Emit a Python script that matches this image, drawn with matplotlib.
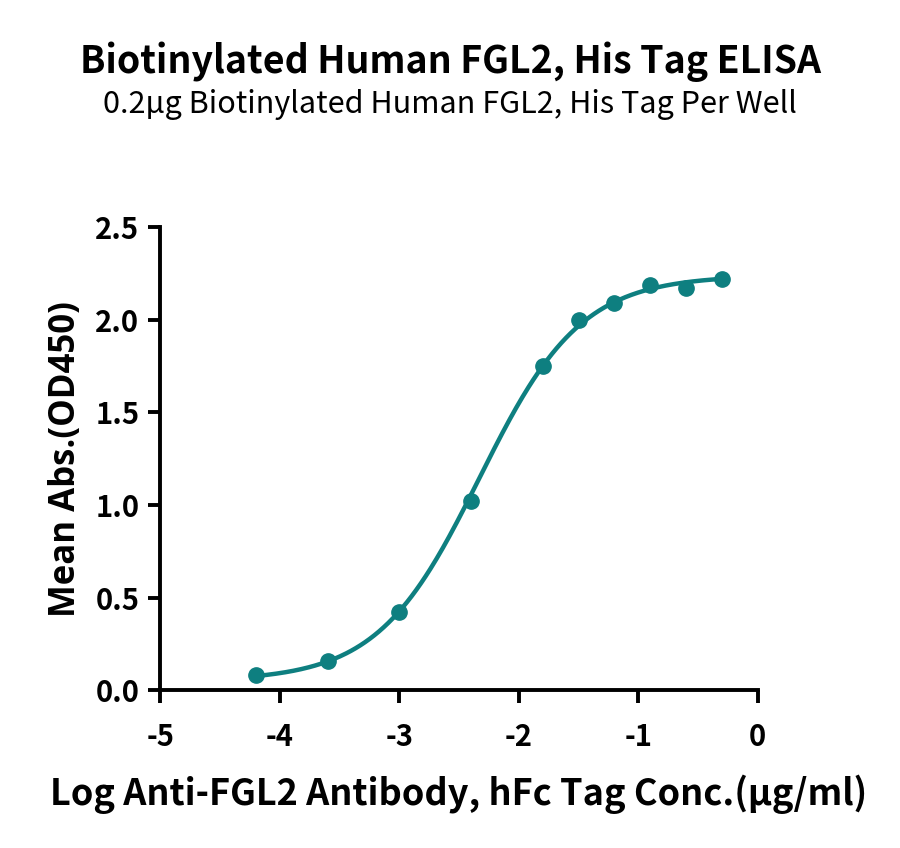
import numpy as np
import matplotlib
matplotlib.use("Agg")
import matplotlib.pyplot as plt

# data
log_conc = [-4.2, -3.6, -3.0, -2.4, -1.8, -1.5, -1.2, -0.9, -0.6, -0.3]
od450 = [0.08, 0.16, 0.42, 1.02, 1.75, 2.00, 2.09, 2.19, 2.17, 2.22]

# 4PL fit parameters (bottom, top, logEC50, hill)
fit_bottom, fit_top, fit_ec50, fit_hill = 0.05, 2.24, -2.33, 1.02

teal = '#0e7f80'
cjk = ['Noto Sans CJK SC', 'DejaVu Sans']

fig = plt.figure(figsize=(9, 8.48), dpi=100)
ax = fig.add_axes([0.178, 0.186, 0.664, 0.546])

xs = np.linspace(min(log_conc), max(log_conc), 300)
ys = fit_bottom + (fit_top - fit_bottom) / (1 + 10 ** ((fit_ec50 - xs) * fit_hill))
ax.plot(xs, ys, color=teal, lw=3.2, clip_on=False)
ax.plot(log_conc, od450, 'o', color=teal, ms=11, clip_on=False)

ax.set_xlim(-5, 0)
ax.set_ylim(0, 2.5)
ax.set_xticks([-5, -4, -3, -2, -1, 0])
ax.set_yticks([0, 0.5, 1.0, 1.5, 2.0, 2.5])
ax.set_xticklabels(['-5', '-4', '-3', '-2', '-1', '0'])
ax.set_yticklabels(['0.0', '0.5', '1.0', '1.5', '2.0', '2.5'])

for s in ['top', 'right']:
    ax.spines[s].set_visible(False)
for s in ['left', 'bottom']:
    ax.spines[s].set_linewidth(2.8)
ax.tick_params(width=2.8, length=9)
ax.tick_params(axis='x', pad=14)
ax.tick_params(axis='y', pad=6)
for lab in ax.get_xticklabels() + ax.get_yticklabels():
    lab.set_family(cjk)
    lab.set_fontweight('bold')
    lab.set_fontsize(21)

ax.set_xlabel('Log Anti-FGL2 Antibody, hFc Tag Conc.(µg/ml)', family=cjk,
              fontweight='bold', fontsize=26, labelpad=16)
ax.set_ylabel('Mean Abs.(OD450)', family=['Open Sans', 'DejaVu Sans'],
              fontweight='bold', fontsize=25, labelpad=8)

fig.text(0.5, 1 - 62 / 848, 'Biotinylated Human FGL2, His Tag ELISA', family=cjk,
         fontweight='bold', fontsize=27, ha='center', va='center')
fig.text(0.5, 1 - 105 / 848, '0.2µg Biotinylated Human FGL2, His Tag Per Well',
         family=cjk, fontsize=22, ha='center', va='center')

fig.savefig('out.png', dpi=100)
